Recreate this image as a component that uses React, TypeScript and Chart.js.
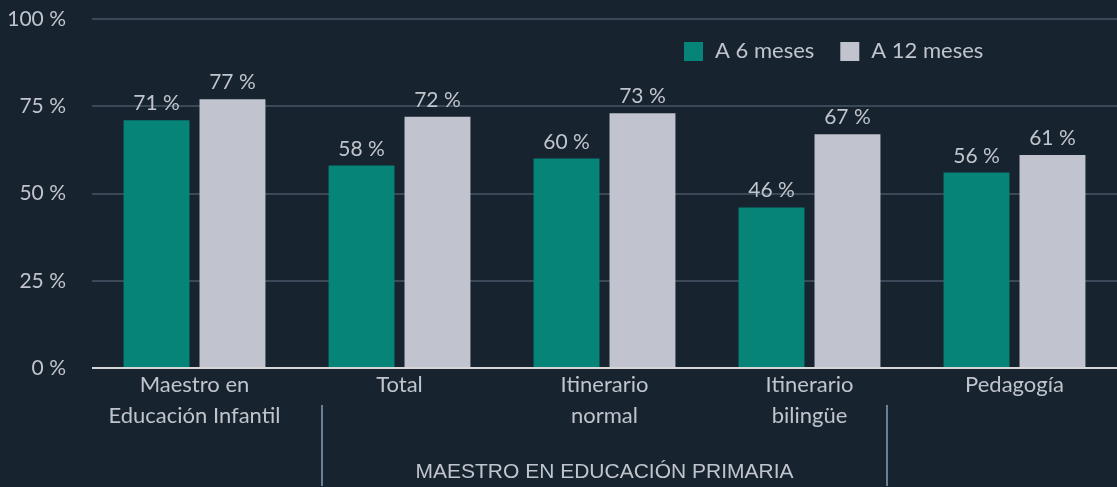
import React, { useEffect, useRef } from "react";
import { Chart, registerables } from "chart.js";

Chart.register(...registerables);

const categories: string[][] = [
  ["Maestro en", "Educación Infantil"],
  ["Total"],
  ["Itinerario", "normal"],
  ["Itinerario", "bilingüe"],
  ["Pedagogía"],
];
const seriesNames = ["A 6 meses", "A 12 meses"];
const sixMonths = [71, 58, 60, 46, 56];
const twelveMonths = [77, 72, 73, 67, 61];
const yTicks = [0, 25, 50, 75, 100];
const groupLabel = "MAESTRO EN EDUCACIÓN PRIMARIA";

const BG = "#17232f";
const TEXT = "#c0c4cc";
const TEAL = "#068478";
const GRAY = "#c1c4ce";
const FONT = "Lato, 'Open Sans', sans-serif";

const bgPlugin = {
  id: "bg",
  beforeDraw(chart: any) {
    const { ctx, width, height } = chart;
    ctx.save();
    ctx.fillStyle = BG;
    ctx.fillRect(0, 0, width, height);
    ctx.restore();
  },
};

const labelPlugin = {
  id: "valueLabels",
  afterDatasetsDraw(chart: any) {
    const { ctx } = chart;
    ctx.save();
    ctx.font = `21px ${FONT}`;
    ctx.fillStyle = TEXT;
    ctx.textAlign = "center";
    ctx.textBaseline = "alphabetic";
    chart.data.datasets.forEach((ds: any, di: number) => {
      const meta = chart.getDatasetMeta(di);
      meta.data.forEach((bar: any, i: number) => {
        ctx.fillText(`${ds.data[i]} %`, bar.x, bar.y - 10);
      });
    });
    ctx.restore();
  },
};

const legendPlugin = {
  id: "customLegend",
  afterDraw(chart: any) {
    const { ctx } = chart;
    ctx.save();
    ctx.font = `22px ${FONT}`;
    ctx.textBaseline = "middle";
    ctx.textAlign = "left";
    const y = 51;
    let x = 684;
    chart.data.datasets.forEach((ds: any) => {
      ctx.fillStyle = ds.backgroundColor;
      ctx.fillRect(x, y - 9, 19, 19);
      ctx.fillStyle = TEXT;
      ctx.fillText(ds.label, x + 31, y);
      x += 31 + ctx.measureText(ds.label).width + 26;
    });
    ctx.restore();
  },
};

const groupPlugin = {
  id: "groupMarks",
  afterDraw(chart: any) {
    const { ctx } = chart;
    const xs = chart.scales.x;
    ctx.save();
    ctx.strokeStyle = "#6b7f95";
    ctx.lineWidth = 2;
    [0.622, 3.378].forEach((v) => {
      const px = Math.round(xs.getPixelForValue(v));
      ctx.beginPath();
      ctx.moveTo(px, 405);
      ctx.lineTo(px, 486);
      ctx.stroke();
    });
    const cx = (xs.getPixelForValue(1) + xs.getPixelForValue(3)) / 2;
    ctx.font = `21px 'Liberation Sans', Arial, sans-serif`;
    ctx.fillStyle = TEXT;
    ctx.textAlign = "center";
    ctx.textBaseline = "middle";
    ctx.fillText(groupLabel, cx, 472);
    ctx.restore();
  },
};

export default function App() {
  const ref = useRef<HTMLCanvasElement>(null);
  useEffect(() => {
    if (!ref.current) return;
    const chart = new Chart(ref.current, {
      type: "bar",
      data: {
        labels: categories,
        datasets: [
          { label: seriesNames[0], data: sixMonths, backgroundColor: TEAL },
          { label: seriesNames[1], data: twelveMonths, backgroundColor: GRAY },
        ],
      },
      options: {
        animation: false,
        responsive: true,
        maintainAspectRatio: false,
        layout: { padding: { top: 19, right: 0, left: 0, bottom: 0 } },
        datasets: { bar: { categoryPercentage: 0.741, barPercentage: 0.868 } },
        plugins: { legend: { display: false }, tooltip: { enabled: false } },
        scales: {
          x: {
            grid: { display: false, drawTicks: false },
            border: { display: false },
            ticks: {
              color: TEXT,
              font: { family: FONT, size: 22, lineHeight: 1.4 },
              padding: 2,
              maxRotation: 0,
              autoSkip: false,
            },
            afterFit: (s: any) => {
              s.height = 119;
              s.paddingLeft = 0;
              s.paddingRight = 0;
            },
          },
          y: {
            min: 0,
            max: 100,
            afterBuildTicks: (s: any) => {
              s.ticks = yTicks.map((v) => ({ value: v }));
            },
            grid: {
              drawTicks: false,
              lineWidth: 2,
              color: (c: any) => (c.tick && c.tick.value === 0 ? "#d6d6d6" : "#3b4857"),
            },
            border: { display: false },
            ticks: {
              color: TEXT,
              font: { family: FONT, size: 21 },
              padding: 26,
              callback: (v: any) => `${v} %`,
            },
            afterFit: (s: any) => {
              s.width = 92;
              s.paddingTop = 0;
              s.paddingBottom = 0;
            },
          },
        },
      },
      plugins: [bgPlugin, labelPlugin, legendPlugin, groupPlugin],
    });
    return () => chart.destroy();
  }, []);
  return (
    <div style={{ position: "fixed", left: 0, top: 0, width: 1117, height: 487, background: BG }}>
      <canvas ref={ref} />
    </div>
  );
}
